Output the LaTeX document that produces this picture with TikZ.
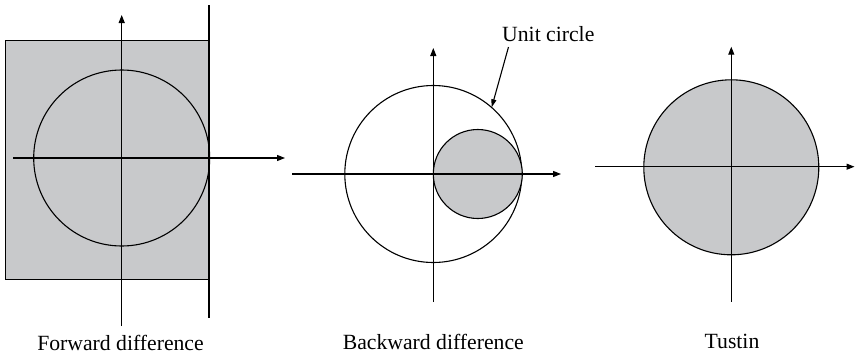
\documentclass[tikz,border=0pt]{standalone}
\usepackage{fontspec}
\setmainfont{Liberation Serif}
\usetikzlibrary{arrows.meta}
\definecolor{regiongray}{RGB}{200,201,203}
\begin{document}
\begin{tikzpicture}[x=1pt,y=-1pt,
  ln/.style={line width=1.1pt,black},
  axis/.style={ln,-{Triangle[length=8pt,width=6pt]}},
  shaded/.style={ln,fill=regiongray},
  lbl/.style={font=\fontsize{21.7}{26}\selectfont,anchor=base,inner sep=0pt}]
\useasboundingbox (0,0) rectangle (855,354);
% ---------- Panel 1: Forward difference
\coordinate (o1) at (121.7,158);
\fill[regiongray] (5.7,40.7) rectangle (209,279.3);
\draw[ln] (209,40.7) -- (5.7,40.7) -- (5.7,279.3) -- (209,279.3);
\coordinate (r1t) at (209,5);
\coordinate (r1b) at (209,318);
\draw[ln] (r1t) -- (r1b);
\draw[ln] (o1) circle (88);
\coordinate (h1s) at (13,158);
\coordinate (h1e) at (285,158);
\coordinate (v1s) at (121.7,326);
\coordinate (v1e) at (121.7,15);
\draw[axis] (h1s) -- (h1e);
\draw[axis] (v1s) -- (v1e);
\node[lbl] (t1) at (120.5,350) {Forward difference};
% ---------- Panel 2: Backward difference
\coordinate (o2) at (433.3,174);
\coordinate (c2) at (477.8,174);
\draw[ln] (o2) circle (88.5);
\draw[shaded] (c2) circle (44.5);
\coordinate (h2s) at (292,174);
\coordinate (h2e) at (561,174);
\coordinate (v2s) at (433.3,302);
\coordinate (v2e) at (433.3,48);
\draw[axis] (h2s) -- (h2e);
\draw[axis] (v2s) -- (v2e);
\node[lbl] (t2) at (433.3,349) {Backward difference};
\node[lbl,anchor=base west] (uc) at (502,41.7) {Unit circle};
\coordinate (ucs) at (508.5,47);
\coordinate (uce) at (491.7,107.3);
\draw[ln,-{Triangle[length=8pt,width=5pt]}] (ucs) -- (uce);
% ---------- Panel 3: Tustin
\coordinate (o3) at (731.3,167.3);
\draw[shaded] (o3) circle (87.5);
\coordinate (h3s) at (595,166.7);
\coordinate (h3e) at (854.5,166.7);
\coordinate (v3s) at (731.3,301.7);
\coordinate (v3e) at (731.3,46.7);
\draw[axis] (h3s) -- (h3e);
\draw[axis] (v3s) -- (v3e);
\node[lbl] (t3) at (732,348.5) {Tustin};
\end{tikzpicture}
\end{document}
